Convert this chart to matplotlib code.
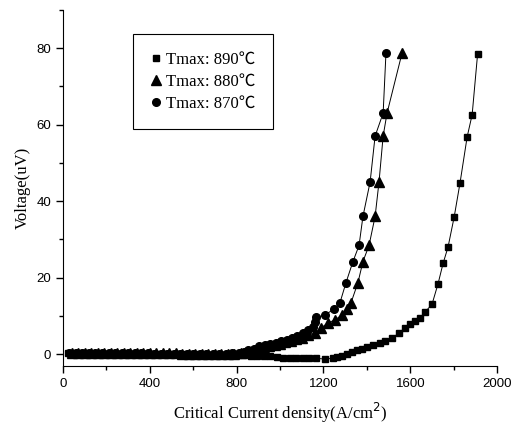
import numpy as np
import matplotlib
matplotlib.use('Agg')
import matplotlib.pyplot as plt
from matplotlib.ticker import MultipleLocator

# Tmax: 890 C  (squares)
j_890 = [25, 55, 85, 115, 145, 175, 205, 235, 265, 295, 325, 355, 385, 415, 445,
         475, 505, 535, 565, 595, 625, 655, 685, 715, 745, 775, 805, 835, 865, 895,
         925, 955, 985, 1015, 1045, 1075, 1105, 1135, 1165, 1207, 1244, 1263, 1286,
         1309, 1332, 1355, 1378, 1401, 1429, 1461, 1484, 1516, 1548, 1576, 1599,
         1622, 1645, 1668, 1700, 1728, 1751, 1774, 1802, 1829, 1862, 1885, 1910]
v_890 = [0.2, 0.2, 0.2, 0.2, 0.1, 0.1, 0.1, 0.1, 0.1, 0.0, 0.0, 0.0, 0.0, 0.0, 0.0,
         0.0, -0.1, -0.1, -0.1, -0.1, -0.1, -0.2, -0.2, -0.2, -0.2, -0.3, -0.3, -0.3, -0.4, -0.4,
         -0.5, -0.6, -0.8, -0.9, -0.9, -1.0, -1.0, -1.1, -1.1, -1.3, -1.1, -0.8, -0.4,
         0.0, 0.5, 1.0, 1.4, 1.9, 2.4, 2.9, 3.4, 4.2, 5.5, 6.9, 7.9,
         8.6, 9.4, 11.0, 13.0, 18.4, 23.7, 28.0, 35.8, 44.7, 56.8, 62.6, 78.4]

# Tmax: 880 C  (triangles)
j_880 = [40, 70, 100, 130, 160, 190, 220, 250, 280, 310, 340, 370, 400, 430, 460,
         490, 520, 550, 580, 610, 640, 670, 700, 730, 760, 790, 820, 848, 875, 900,
         925, 950, 975, 1000, 1025, 1050, 1075, 1100, 1130, 1161, 1189, 1221, 1253,
         1286, 1309, 1327, 1359, 1382, 1410, 1438, 1456, 1475, 1493, 1562]
v_880 = [0.4, 0.4, 0.4, 0.4, 0.4, 0.3, 0.3, 0.3, 0.3, 0.3, 0.3, 0.2, 0.2, 0.2, 0.2,
         0.2, 0.2, 0.1, 0.1, 0.1, 0.1, 0.1, 0.1, 0.1, 0.1, 0.1, 0.2, 0.5, 0.9, 1.3,
         1.6, 2.0, 2.3, 2.7, 3.1, 3.5, 3.9, 4.3, 4.9, 5.5, 6.8, 8.2, 8.9,
         10.3, 11.8, 13.4, 18.7, 24.2, 28.4, 36.0, 45.0, 57.0, 63.0, 78.7]

# Tmax: 870 C  (circles)
j_870 = [30, 60, 90, 120, 150, 180, 210, 240, 270, 300, 330, 360, 390, 420, 450,
         480, 510, 540, 570, 600, 630, 660, 690, 720, 750, 780, 810, 835, 853, 880,
         905, 930, 955, 980, 1005, 1030, 1055, 1080, 1105, 1130, 1150, 1161, 1168,
         1207, 1249, 1276, 1304, 1336, 1364, 1382, 1415, 1438, 1475, 1488]
v_870 = [0.3, 0.3, 0.3, 0.3, 0.3, 0.3, 0.2, 0.2, 0.2, 0.2, 0.2, 0.2, 0.2, 0.1, 0.1,
         0.1, 0.1, 0.1, 0.1, 0.1, 0.1, 0.1, 0.1, 0.1, 0.1, 0.2, 0.3, 0.6, 1.0, 1.4,
         2.0, 2.4, 2.6, 3.0, 3.4, 3.8, 4.3, 4.8, 5.4, 6.2, 7.0, 8.4, 9.6,
         10.2, 11.8, 13.4, 18.7, 24.2, 28.4, 36.0, 45.0, 57.0, 63.0, 78.7]

labels = ['Tmax: 890℃', 'Tmax: 880℃', 'Tmax: 870℃']

serif = ['Liberation Serif', 'Noto Sans CJK SC', 'DejaVu Serif']
plt.rcParams['font.family'] = ['Liberation Sans', 'DejaVu Sans']

fig = plt.figure(figsize=(5.2, 4.28), dpi=100)
ax = fig.add_axes([0.121, 0.145, 0.835, 0.832])

ax.plot(j_890, v_890, color='black', lw=0.7, marker='s', ms=5, label=labels[0])
ax.plot(j_880, v_880, color='black', lw=0.7, marker='^', ms=6.5, label=labels[1])
ax.plot(j_870, v_870, color='black', lw=0.7, marker='o', ms=5.5, label=labels[2])

ax.set_xlim(0, 2000)
ax.set_ylim(-3.1, 90)
ax.xaxis.set_major_locator(MultipleLocator(400))
ax.xaxis.set_minor_locator(MultipleLocator(200))
ax.yaxis.set_major_locator(MultipleLocator(20))
ax.yaxis.set_minor_locator(MultipleLocator(10))
ax.tick_params(which='major', direction='out', length=5, width=1, labelsize=9.5)
ax.tick_params(which='minor', direction='out', length=3, width=1)
ax.spines['top'].set_visible(False)
ax.spines['right'].set_visible(False)

ax.set_xlabel('Critical Current density(A/cm$^2$)', family=serif, fontsize=12, labelpad=8)
ax.set_ylabel('Voltage(uV)', family=serif, fontsize=12, labelpad=4)

leg = ax.legend(loc='upper left', bbox_to_anchor=(0.143, 0.955), prop={'family': serif, 'size': 12},
                handlelength=0.6, handletextpad=0.3, labelspacing=0.35, borderpad=1.05,
                fancybox=False, edgecolor='black', framealpha=1)
leg.get_frame().set_linewidth(0.8)
for h in leg.get_lines():
    h.set_linestyle('None')

fig.savefig('out.png', dpi=100)
